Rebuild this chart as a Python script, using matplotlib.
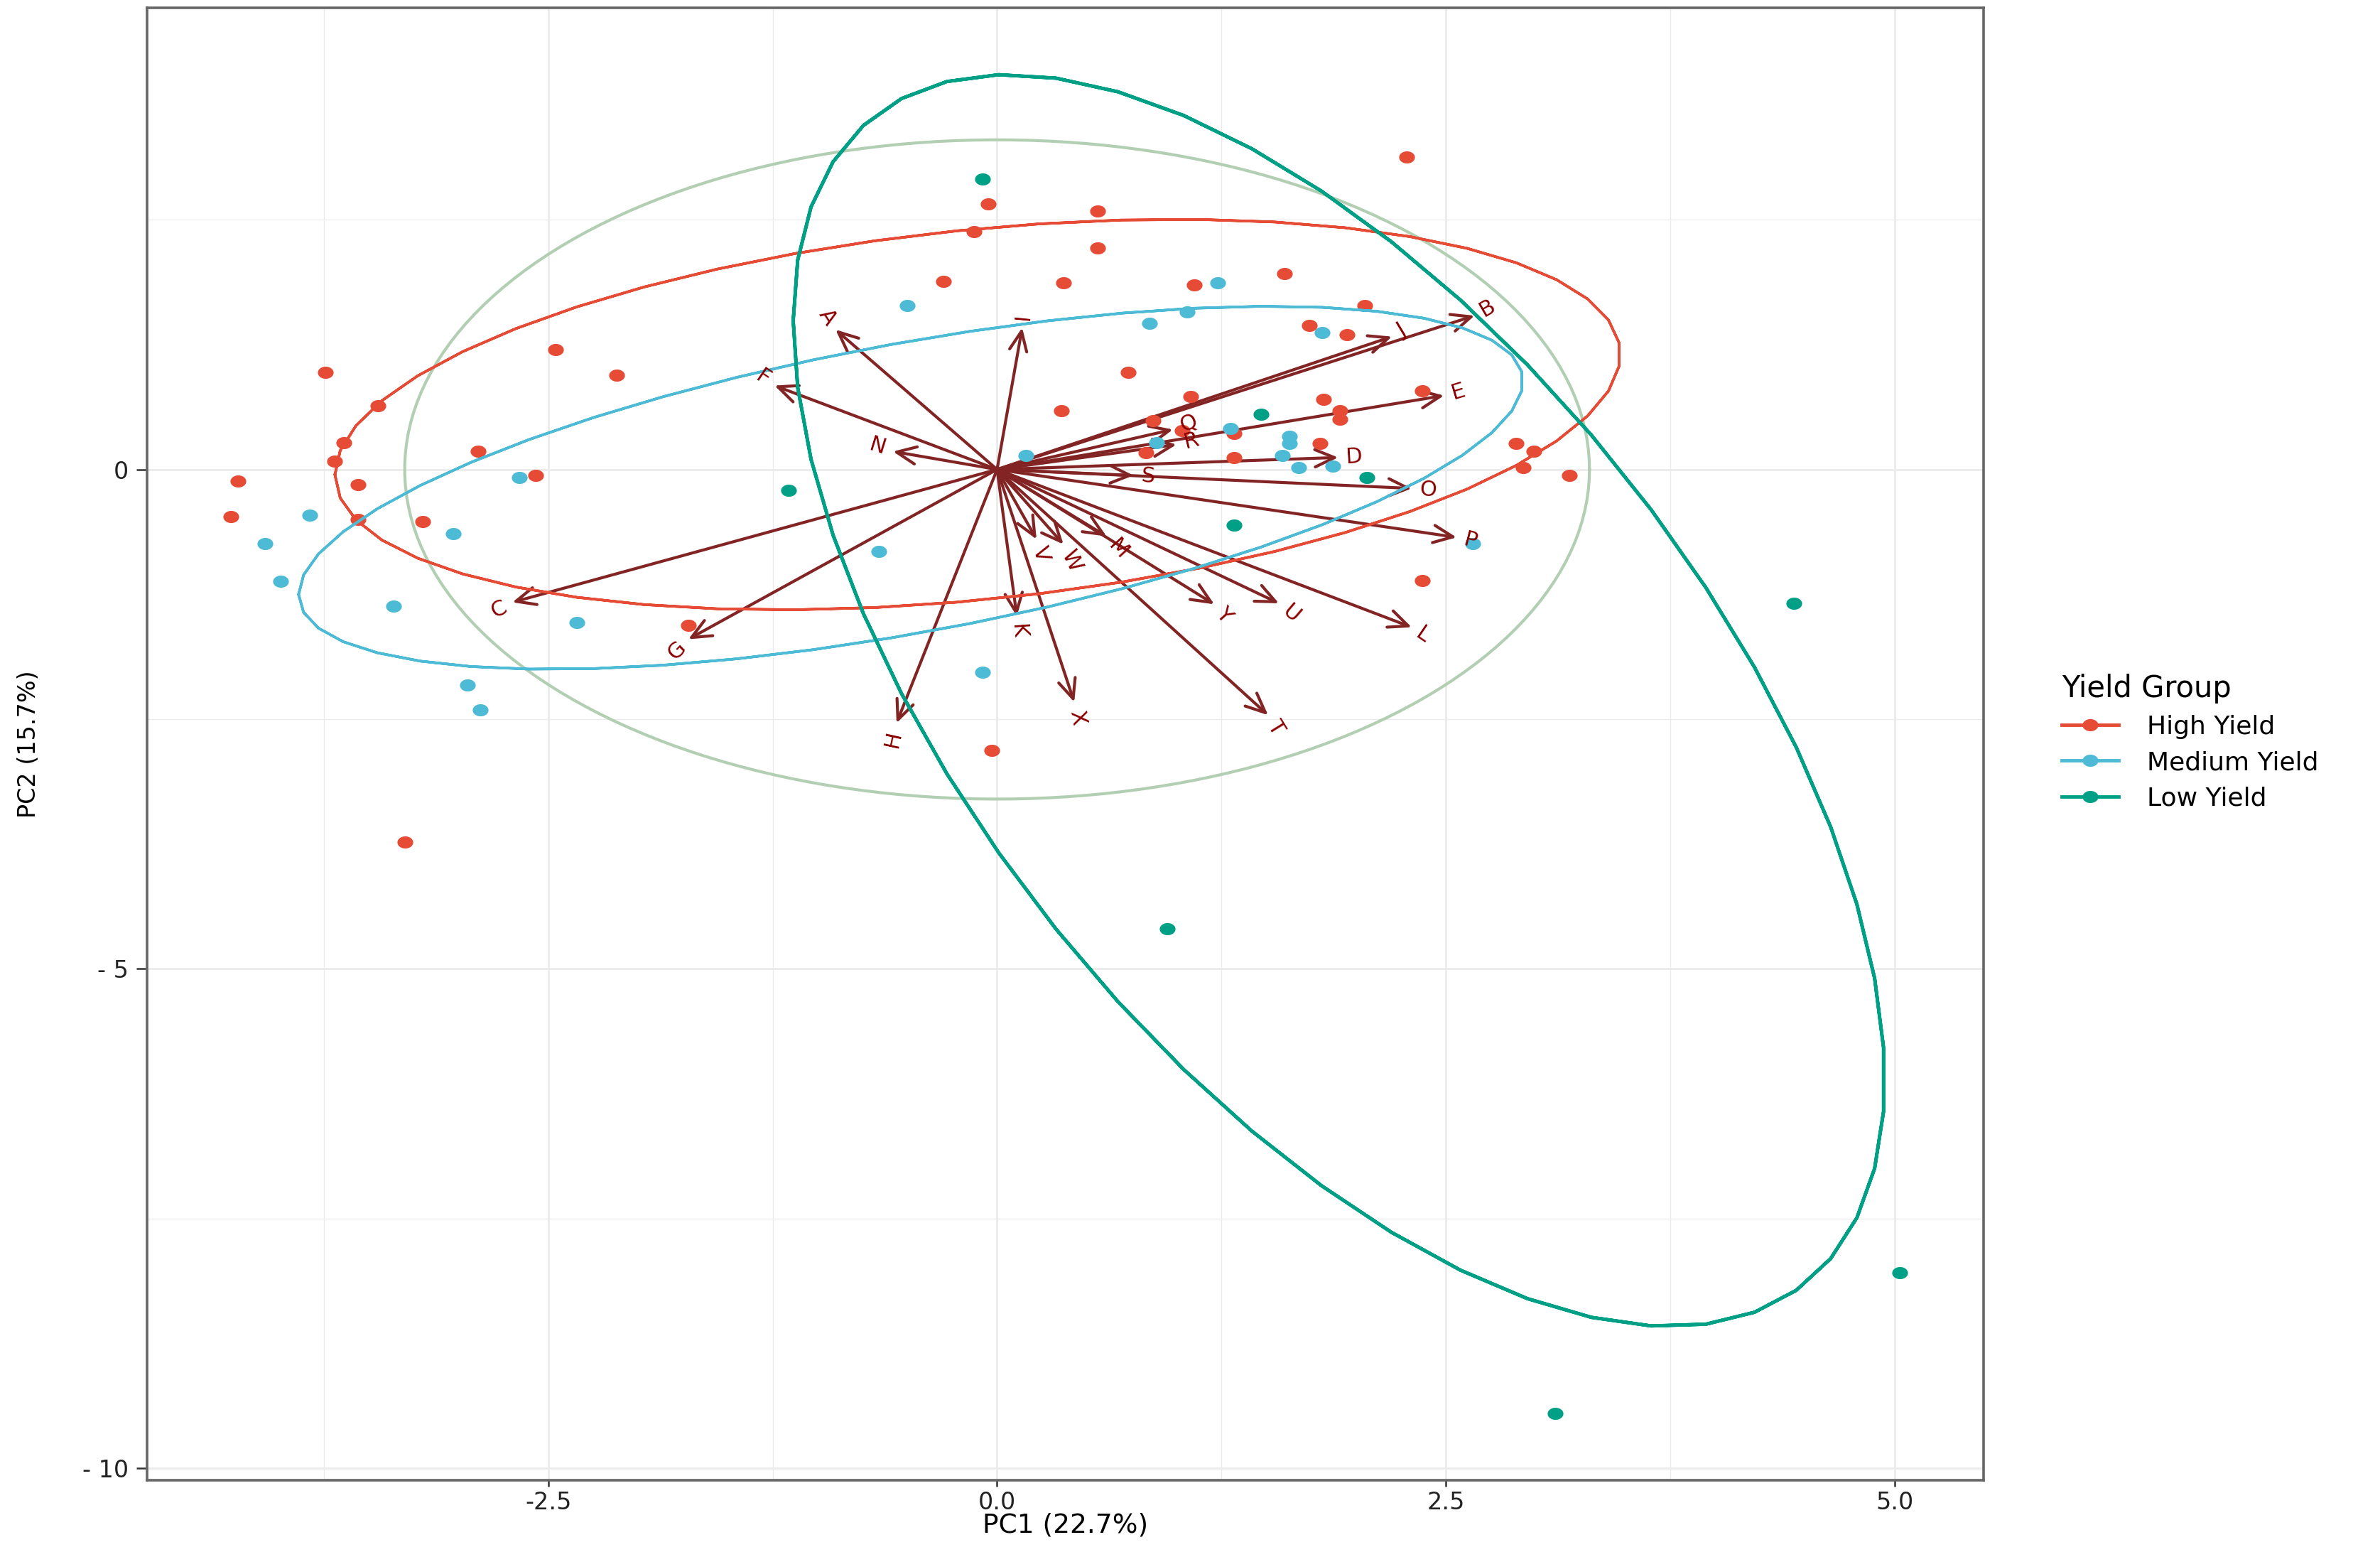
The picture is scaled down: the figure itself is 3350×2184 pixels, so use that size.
import numpy as np
import matplotlib.pyplot as plt
from matplotlib.path import Path
from matplotlib.lines import Line2D

# ---- PCA scores (PC1, PC2), by yield group ----
high_pc1 = [2.28, -0.05, 0.56, -0.13, 0.56, 1.60, -0.30, 0.37, 1.10, 2.05,
            1.74, 1.95, -2.46, -3.74, -2.12, 0.73, -3.45, 1.08, 1.82, 2.37,
            0.36, 1.91, 1.91, -3.64, 0.87, 1.03, 1.32, -2.89, -3.69, 2.89,
            2.99, 1.80, 0.83, 1.32, 2.93, 3.19, -2.57, -4.23, -3.56, -4.27,
            -3.56, -3.20, 2.37, -1.72, -0.03, -3.30]
high_pc2 = [3.13, 2.66, 2.59, 2.38, 2.22, 1.96, 1.88, 1.87, 1.85, 1.64,
            1.44, 1.35, 1.20, 0.97, 0.94, 0.97, 0.64, 0.73, 0.70, 0.79,
            0.59, 0.59, 0.50, 0.27, 0.49, 0.39, 0.36, 0.18, 0.08, 0.26,
            0.18, 0.26, 0.17, 0.12, 0.02, -0.06, -0.06, -0.12, -0.15, -0.47,
            -0.50, -0.52, -1.11, -1.56, -2.81, -3.73]

medium_pc1 = [-0.50, 1.23, 1.06, 0.85, 1.81, -2.66, -3.83, -4.08, -3.03, -3.99,
              -3.36, -2.34, -2.95, -2.88, -0.66, -0.08, 1.30, 0.89, 1.63, 1.63,
              1.59, 0.16, 1.68, 1.87, 2.65]
medium_pc2 = [1.64, 1.87, 1.58, 1.46, 1.37, -0.08, -0.46, -0.74, -0.64, -1.12,
              -1.37, -1.53, -2.16, -2.41, -0.82, -2.03, 0.41, 0.27, 0.33, 0.26,
              0.14, 0.14, 0.02, 0.03, -0.74]

low_pc1 = [-0.08, -1.16, 1.47, 2.06, 1.32, 0.95, 4.44, 5.03, 3.11]
low_pc2 = [2.91, -0.21, 0.55, -0.08, -0.56, -4.60, -1.34, -8.04, -9.45]

# ---- variable loadings (arrow tips) ----
var_names = list("ABCDEFGHIJKLMNOPQRSTUVWXY")
var_pc1 = [-0.90, 2.66, -2.70, 1.90, 2.49, -1.24, -1.72, -0.56, 0.14, 2.20,
           0.11, 2.31, 0.61, -0.58, 2.31, 2.56, 0.98, 1.00, 0.76, 1.51,
           1.57, 0.22, 0.37, 0.43, 1.21]
var_pc2 = [1.40, 1.54, -1.33, 0.12, 0.74, 0.84, -1.70, -2.54, 1.42, 1.33,
           -1.47, -1.58, -0.67, 0.18, -0.19, -0.68, 0.40, 0.25, -0.06, -2.46,
           -1.34, -0.70, -0.75, -2.33, -1.35]

group_names = ["High Yield", "Medium Yield", "Low Yield"]
group_colors = ["#E64B35", "#4DBBD5", "#00A087"]
circle_radius = 3.3
ellipse_prob = 0.68

groups = [(high_pc1, high_pc2), (medium_pc1, medium_pc2), (low_pc1, low_pc2)]


def group_ellipse(x, y, prob):
    # normal probability ellipse, same recipe as ggbiplot
    theta = np.concatenate([np.linspace(-np.pi, np.pi, 50), np.linspace(np.pi, -np.pi, 50)])
    circ = np.column_stack([np.cos(theta), np.sin(theta)])
    sigma = np.cov(x, y)
    ed = np.sqrt(-2 * np.log(1 - prob))
    pts = circ @ np.linalg.cholesky(sigma).T * ed + [np.mean(x), np.mean(y)]
    return pts[:, 0], pts[:, 1]


# slightly wide dot, like the stretched original
t = np.linspace(0, 2 * np.pi, 60)
dot = Path(np.column_stack([1.3 * np.cos(t), np.sin(t)]), closed=True)

plt.rcParams['font.family'] = ['DejaVu Sans']
fig = plt.figure(figsize=(33.5, 21.84), dpi=100)
ax = fig.add_axes([0.0618, 0.0462, 0.7716, 0.9488])

# correlation circle
tc = np.linspace(0, 2 * np.pi, 200)
ax.plot(circle_radius * np.cos(tc), circle_radius * np.sin(tc), color="#b3cfb3", lw=3.0, zorder=2)

# arrows
for vx, vy in zip(var_pc1, var_pc2):
    ax.annotate("", xy=(vx, vy), xytext=(0, 0),
                arrowprops=dict(arrowstyle="->,head_length=0.9,head_width=0.4", color="#832424",
                                lw=3.0, shrinkA=0, shrinkB=0, mutation_scale=22), zorder=3)

# points
for (gx, gy), col in zip(groups, group_colors):
    ax.plot(gx, gy, ls="none", marker=dot, markersize=16, color=col, mec="none", zorder=4)

# ellipses
ell_all = []
for (gx, gy), col, lw in zip(groups, group_colors, [2.6, 2.6, 3.4]):
    ex, ey = group_ellipse(np.array(gx), np.array(gy), ellipse_prob)
    ell_all.append((ex, ey))
    ax.plot(ex, ey, color=col, lw=lw, zorder=5)

# variable labels
for name, vx, vy in zip(var_names, var_pc1, var_pc2):
    ang = np.degrees(np.arctan(vy / vx))
    s = 1 if vx > 0 else -1
    off = 8
    ax.annotate(name, xy=(vx, vy),
                xytext=(s * off * np.cos(np.radians(ang)), s * off * np.sin(np.radians(ang))),
                textcoords="offset points", rotation=ang, rotation_mode="anchor",
                ha="left" if s > 0 else "right", va="center", color="#8B0000",
                fontsize=22, zorder=6)

# limits: data range + 5 %
all_x = np.concatenate([np.concatenate([g[0] for g in groups])] + [e[0] for e in ell_all])
all_y = np.concatenate([np.concatenate([g[1] for g in groups])] + [e[1] for e in ell_all])
xr = all_x.max() - all_x.min()
yr = all_y.max() - all_y.min()
ax.set_xlim(all_x.min() - 0.05 * xr, all_x.max() + 0.05 * xr)
ax.set_ylim(all_y.min() - 0.05 * yr, all_y.max() + 0.05 * yr)

ax.set_xticks([-2.5, 0.0, 2.5, 5.0])
ax.set_xticklabels(["-2.5", "0.0", "2.5", "5.0"])
ax.set_yticks([0, -5, -10])
ax.set_yticklabels(["0", "- 5", "- 10"])
ax.set_xticks([-3.75, -1.25, 1.25, 3.75], minor=True)
ax.set_yticks([2.5, -2.5, -7.5], minor=True)
ax.grid(which="major", color="#EBEBEB", lw=2.0, zorder=0)
ax.grid(which="minor", color="#EBEBEB", lw=1.0, zorder=0)
ax.set_axisbelow(True)
ax.tick_params(axis="x", which="major", length=6.5, width=1.8, color="#333333",
               labelsize=24, pad=4, labelcolor="#222222")
ax.tick_params(axis="y", which="major", length=11, width=1.8, color="#333333",
               labelsize=24, pad=8, labelcolor="#222222")
ax.tick_params(which="minor", length=0)
for sp in ax.spines.values():
    sp.set_color("#666666")
    sp.set_linewidth(2.6)

ax.set_xlabel("PC1 (22.7%)", fontsize=27)
ax.set_ylabel("PC2 (15.7%)", fontsize=24)
ax.xaxis.set_label_coords(0.5, -0.022)
ax.yaxis.set_label_coords(-0.058, 0.5)

handles = [Line2D([], [], color=c, lw=3.5, marker=dot, markersize=16, mec="none") for c in group_colors]
leg = fig.legend(handles, group_names, title="Yield Group", loc="center left",
                 bbox_to_anchor=(0.861, 0.522), frameon=False, fontsize=26,
                 title_fontsize=30, handlelength=2.2, handletextpad=1.1,
                 labelspacing=0.45, borderpad=0, alignment="left")

plt.savefig("out.png", dpi=100)
